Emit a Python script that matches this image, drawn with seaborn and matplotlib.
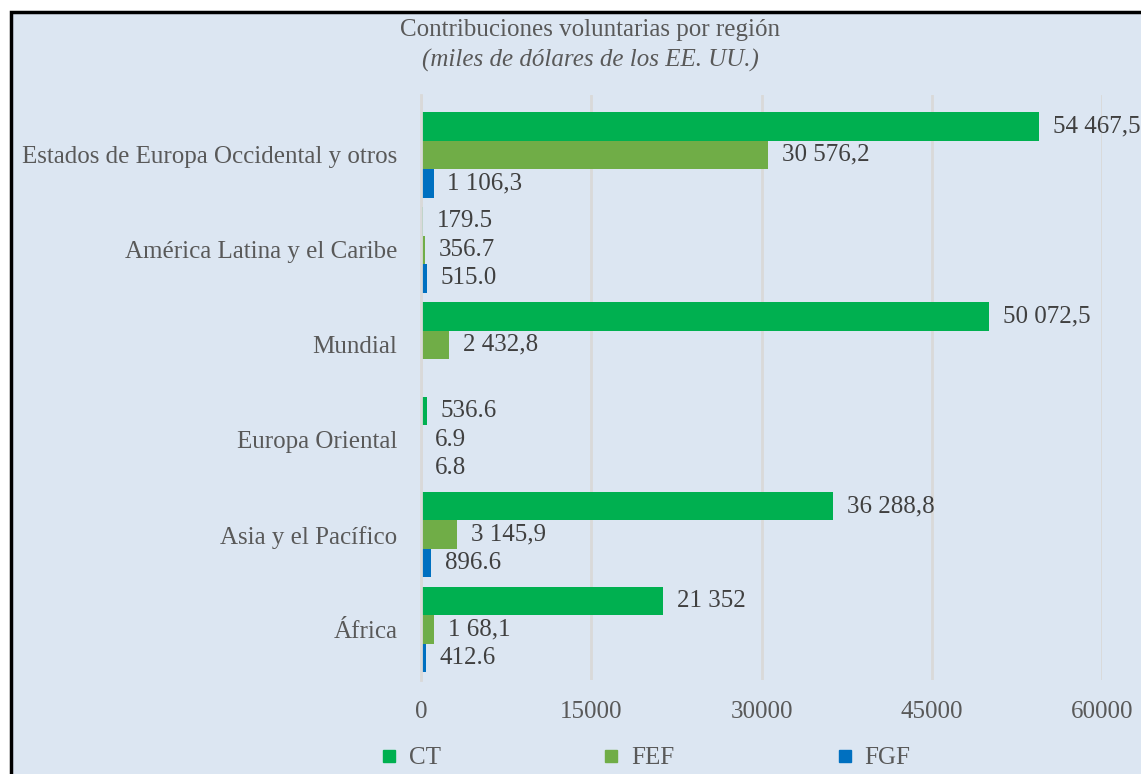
import numpy as np
import pandas as pd
import matplotlib
matplotlib.use("Agg")
import matplotlib.pyplot as plt
from matplotlib.patches import Rectangle
from matplotlib.lines import Line2D
import seaborn as sns

# ── Data ──
regions = [
    "Estados de Europa Occidental y otros",
    "América Latina y el Caribe",
    "Mundial",
    "Europa Oriental",
    "Asia y el Pacífico",
    "África",
]
series = ["CT", "FEF", "FGF"]
ct_values = [54467.5, 179.5, 50072.5, 536.6, 36288.8, 21352.0]
fef_values = [30576.2, 356.7, 2432.8, 6.9, 3145.9, 1168.1]
fgf_values = [1106.3, 515.0, np.nan, 6.8, 896.6, 412.6]
ct_labels = ["54 467,5", "179.5", "50 072,5", "536.6", "36 288,8", "21 352"]
fef_labels = ["30 576,2", "356.7", "2 432,8", "6.9", "3 145,9", "1 68,1"]
fgf_labels = ["1 106,3", "515.0", "", "6.8", "896.6", "412.6"]
x_ticks = [0, 15000, 30000, 45000, 60000]

colors = {"CT": "#00B050", "FEF": "#70AD47", "FGF": "#0070C0"}
BG = "#DCE6F2"
TXT = "#595959"
FS = 18

df = pd.DataFrame({
    "region": regions * 3,
    "serie": [s for s in series for _ in regions],
    "valor": ct_values + fef_values + fgf_values,
    "etiqueta": ct_labels + fef_labels + fgf_labels,
})

sns.set_style("white")
plt.rcParams["font.family"] = ["Liberation Serif", "DejaVu Serif"]

W, H = 1141, 774
fig = plt.figure(figsize=(W / 100, H / 100), dpi=100, facecolor="white")

# light blue chart box with black border (left/top visible)
fig.patches.append(Rectangle((11 / W, -0.01), 1.02, 1 - 12 / H + 0.01,
                             transform=fig.transFigure, facecolor=BG,
                             edgecolor="black", linewidth=2.5, zorder=-5))

ax = fig.add_axes([421 / W, 1 - 680 / H, (1102 - 421) / W, (680 - 95) / H])
ax.set_facecolor("none")

sns.barplot(data=df.dropna(subset=["valor"]), y="region", x="valor", hue="serie",
            order=regions, hue_order=series, palette=colors, orient="h",
            saturation=1, width=0.9, gap=0, linewidth=0, legend=False, ax=ax)

for cont, s in zip(ax.containers, series):
    labs = df[(df["serie"] == s) & df["valor"].notna()]["etiqueta"].tolist()
    ax.bar_label(cont, labels=labs, padding=10, fontsize=FS, color="#404040")

ax.set_xlim(0, 60000)
ax.set_ylim(5.53, -0.63)
ax.set_xticks(x_ticks)
ax.set_xticklabels([str(t) for t in x_ticks])
ax.tick_params(axis="x", length=0, pad=15, labelsize=FS, labelcolor=TXT)
ax.tick_params(axis="y", length=0, pad=17, labelsize=FS, labelcolor=TXT)
ax.grid(axis="x", color="#D9D9D9", linewidth=2)
ax.set_axisbelow(True)
for side in ["top", "right", "bottom"]:
    ax.spines[side].set_visible(False)
ax.spines["left"].set_color("#D9D9D9")
ax.spines["left"].set_linewidth(2)
ax.set_xlabel("")
ax.set_ylabel("")

fig.text(590 / W, 1 - 30 / H, "Contribuciones voluntarias por región",
         ha="center", va="center", fontsize=FS, color=TXT)
fig.text(590 / W, 1 - 60 / H, "(miles de dólares de los EE. UU.)",
         ha="center", va="center", fontsize=FS, color=TXT, style="italic")

handles = [Line2D([], [], marker="s", linestyle="none", markersize=9,
                  markerfacecolor=colors[s], markeredgecolor=colors[s])
           for s in series]
fig.legend(handles, series, loc="center", ncol=3, frameon=False,
           bbox_to_anchor=(645 / W, 1 - 758 / H), fontsize=FS,
           labelcolor=TXT, handletextpad=0.4, columnspacing=6.4,
           handlelength=0.8)

fig.savefig("out.png", dpi=100, facecolor="white")
